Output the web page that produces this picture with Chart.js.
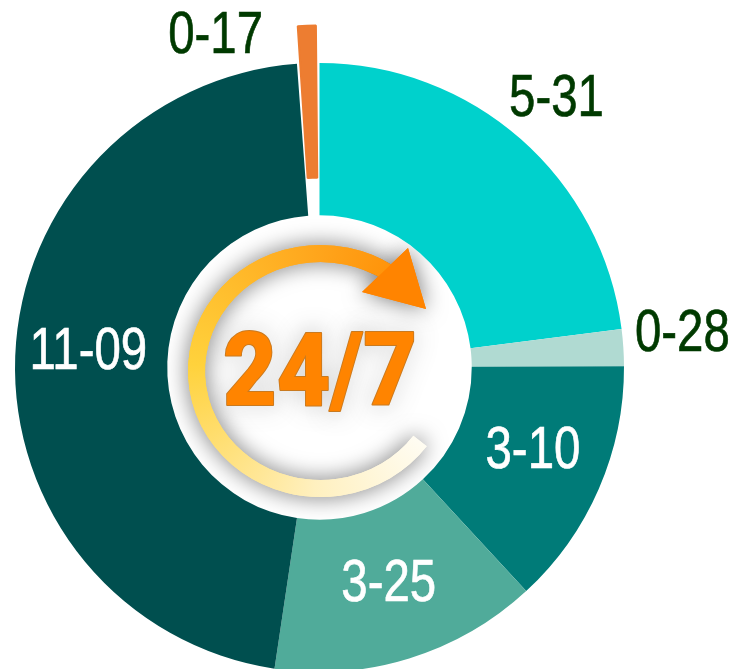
<!DOCTYPE html>
<html>
<head>
<meta charset="utf-8">
<title>24/7</title>
<script src="https://cdn.jsdelivr.net/npm/chart.js@4/dist/chart.umd.min.js"></script>
<style>
  html, body { margin: 0; padding: 0; background: #fff; }
  canvas { display: block; }
</style>
</head>
<body>
<canvas id="clock" width="733" height="669"></canvas>
<script>
// hours-minutes of the day, values are minutes
const categories = ["5-31", "0-28", "3-10", "3-25", "11-09", "0-17"];
const minutes = [331, 28, 190, 205, 669, 17];
const colors = ["#00d1cc", "#b0dad2", "#007b78", "#50ab9a", "#004f4f", "#ed7d31"];
// chart.js moves a slice by half of its offset
const sliceOffsets = [0, 0, 0, 0, 0, 78];
const sliceBorders = [0, 0, 0, 0, 0, 2];
const labelColors = ["#003a00", "#003a00", "#ffffff", "#ffffff", "#ffffff", "#003a00"];
// shift of each label from the middle of its slice
const labelShift = [[86, -96.5], [135, -18], [4, -7], [2, -1.5], [-3, -6.5], [-94, -64]];

const sliceLabels = {
  id: "sliceLabels",
  afterDatasetsDraw(chart) {
    const ctx = chart.ctx;
    ctx.save();
    ctx.font = '60px "Liberation Sans"';
    ctx.textAlign = "center";
    ctx.textBaseline = "middle";
    ctx.lineWidth = 0.7;
    chart.getDatasetMeta(0).data.forEach((arc, i) => {
      const p = arc.getCenterPoint();
      const narrow = ctx.measureText(categories[i]).width * 0.79;
      const x = p.x + labelShift[i][0], y = p.y + labelShift[i][1];
      ctx.fillStyle = labelColors[i];
      ctx.strokeStyle = labelColors[i];
      ctx.fillText(categories[i], x, y, narrow);
      ctx.strokeText(categories[i], x, y, narrow);
    });
    ctx.restore();
  }
};

const badge = {
  id: "badge",
  afterDatasetsDraw(chart) {
    const ctx = chart.ctx;
    const arc = chart.getDatasetMeta(0).data[0];
    const cx = arc.x, cy = arc.y;
    const ringX = cx + 1, ringY = cy + 3.5;

    // circular arrow, a little wider than tall
    const from = 36.6 * Math.PI / 180;
    const to = -57 * Math.PI / 180;
    const ring = ctx.createConicGradient(from - 0.15, ringX, ringY);
    ring.addColorStop(0, "#ff8a00");
    ring.addColorStop(0.01, "#fffdf5");
    ring.addColorStop(0.18, "#fff0bf");
    ring.addColorStop(0.43, "#ffd23c");
    ring.addColorStop(0.68, "#ffa31a");
    ring.addColorStop(0.82, "#ff8a00");
    ring.addColorStop(1, "#ff8a00");

    const drawArrow = () => {
      ctx.beginPath();
      ctx.ellipse(ringX, ringY, 124, 117.5, 0, from, to);
      ctx.lineWidth = 17;
      ctx.strokeStyle = ring;
      ctx.stroke();
      ctx.beginPath();
      ctx.moveTo(cx + 88.5, cy - 119.5);
      ctx.lineTo(cx + 106.5, cy - 58.5);
      ctx.lineTo(cx + 42.5, cy - 75.5);
      ctx.closePath();
      ctx.fillStyle = "#ff8400";
      ctx.fill();
    };

    ctx.save();
    ctx.beginPath();
    ctx.arc(cx, cy, arc.innerRadius, 0, Math.PI * 2);
    ctx.clip();
    ctx.shadowColor = "rgba(0,0,0,0.55)";
    ctx.shadowBlur = 22;
    drawArrow();

    // centre text, stroke first so it thickens the letters
    ctx.font = '900 102px Roboto';
    ctx.textAlign = "center";
    ctx.textBaseline = "alphabetic";
    ctx.lineJoin = "round";
    ctx.lineWidth = 2;
    ctx.strokeStyle = "#c97a20";
    ctx.strokeText("24/7", cx + 0.5, cy + 37.5, 194);
    ctx.shadowColor = "transparent";
    drawArrow();
    ctx.fillStyle = "#ff8400";
    ctx.fillText("24/7", cx + 0.5, cy + 37.5, 194);
    ctx.restore();
  }
};

new Chart(document.getElementById("clock"), {
  type: "doughnut",
  data: {
    labels: categories,
    datasets: [{
      data: minutes,
      backgroundColor: colors,
      borderColor: colors,
      borderWidth: sliceBorders,
      offset: sliceOffsets
    }]
  },
  options: {
    responsive: false,
    animation: false,
    radius: 304.5,
    cutout: "50%",
    layout: { padding: { left: 0, right: 94, top: 66, bottom: 0 } },
    plugins: {
      legend: { display: false },
      tooltip: { enabled: false }
    }
  },
  plugins: [badge, sliceLabels]
});
</script>
</body>
</html>
